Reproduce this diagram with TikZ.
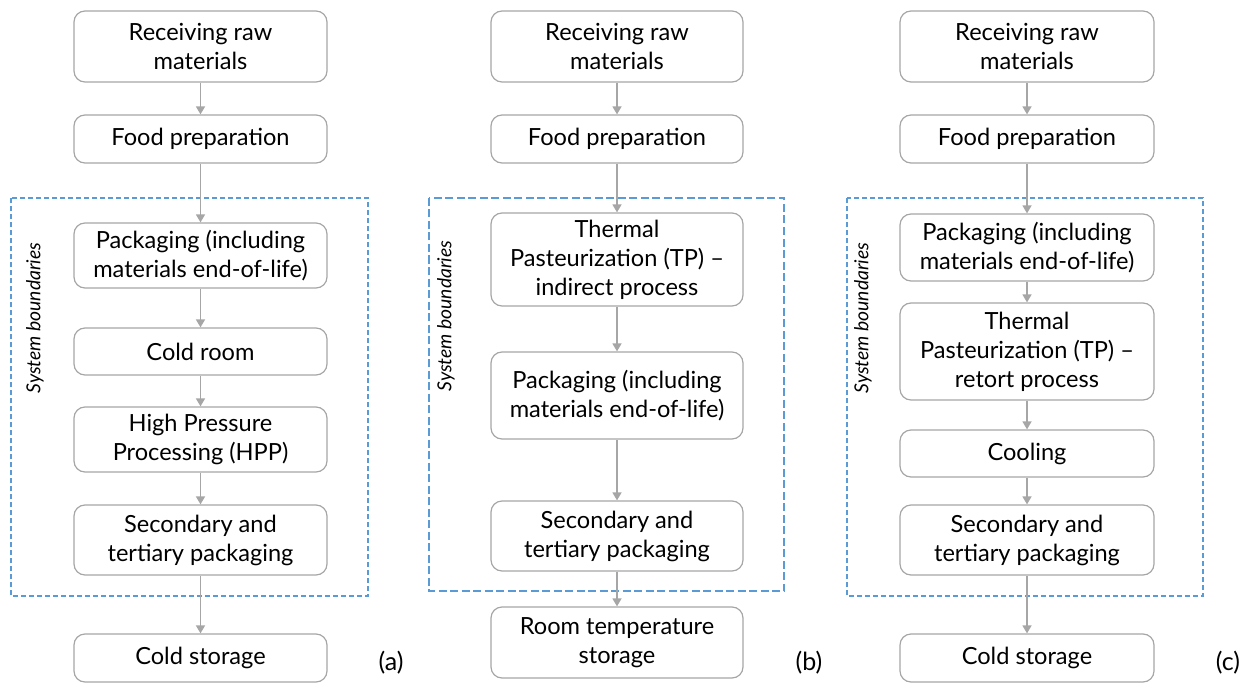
\documentclass[tikz,border=0pt]{standalone}
\usepackage{fontspec}
\setmainfont{Lato}
\usetikzlibrary{arrows.meta}
\definecolor{boxgray}{HTML}{A6A6A6}
\definecolor{arrgray}{HTML}{A6A6A6}
\definecolor{bblue}{HTML}{5B9BD5}
\newcommand{\mainsz}{\fontsize{23.6pt}{29pt}\selectfont}
\newcommand{\labsz}{\fontsize{19.3pt}{23pt}\selectfont\itshape}
\tikzset{
  procbox/.style={draw=boxgray, line width=1.2pt, rounded corners=11pt, inner sep=0pt,
    minimum width=253pt, align=center, font=\mainsz, text=black},
  flow/.style={draw=arrgray, line width=1.5pt, -{Triangle[length=8pt,width=9pt]}},
  bound/.style={draw=bblue, line width=1.2pt, dash pattern=on 5pt off 3pt},
  boundb/.style={draw=bblue, line width=1.2pt, dash pattern=on 8pt off 3.5pt},
  boundlab/.style={rotate=90, font=\labsz, inner sep=0pt},
  panlab/.style={font=\fontsize{25pt}{30pt}\selectfont, inner sep=0pt}
}
\begin{document}
\begin{tikzpicture}[x=1pt,y=-1pt]
\useasboundingbox (0,0) rectangle (1245,695);
% ---------- panel (a)
\draw[bound] (11,198) rectangle (368,596);
\node[boundlab] (la) at (35,318) {System boundaries};
\node[procbox, minimum height=71pt] (a1) at (200.5,46.5) {Receiving raw\\materials};
\node[procbox, minimum height=48pt] (a2) at (200.5,139) {Food preparation};
\node[procbox, minimum height=65pt] (a3) at (200.5,255.5) {Packaging (including\\materials end-of-life)};
\node[procbox, minimum height=47pt] (a4) at (200.5,351.5) {Cold room};
\node[procbox, minimum height=65pt] (a5) at (200.5,439.5) {High Pressure\\Processing (HPP)};
\node[procbox, minimum height=70pt] (a6) at (200.5,540) {Secondary and\\tertiary packaging};
\node[procbox, minimum height=48pt] (a7) at (200.5,658) {Cold storage};
\node[panlab] (pa) at (391,663) {(a)};
\draw[flow] (a1) -- (a2);
\draw[flow] (a2) -- (a3);
\draw[flow] (a3) -- (a4);
\draw[flow] (a4) -- (a5);
\draw[flow] (a5) -- (a6);
\draw[flow] (a6) -- (a7);
% ---------- panel (b)
\draw[boundb] (429,198) rectangle (784,591);
\node[boundlab] (lb) at (446,316) {System boundaries};
\node[procbox, minimum width=252pt, minimum height=71pt] (b1) at (617,46.5) {Receiving raw\\materials};
\node[procbox, minimum width=252pt, minimum height=48pt] (b2) at (617,139) {Food preparation};
\node[procbox, minimum width=252pt, minimum height=93pt] (b3) at (617,259.5) {Thermal\\Pasteurization (TP) –\\indirect process};
\node[procbox, minimum width=252pt, minimum height=87pt] (b4) at (617,395.5) {Packaging (including\\materials end-of-life)};
\node[procbox, minimum width=252pt, minimum height=70pt] (b5) at (617,536) {Secondary and\\tertiary packaging};
\node[procbox, minimum width=252pt, minimum height=71pt] (b6) at (617,642.5) {Room temperature\\storage};
\node[panlab] (pb) at (809,663) {(b)};
\draw[flow] (b1) -- (b2);
\draw[flow] (b2) -- (b3);
\draw[flow] (b3) -- (b4);
\draw[flow] (b4) -- (b5);
\draw[flow] (b5) -- (b6);
% ---------- panel (c)
\draw[bound] (847,198) rectangle (1203,596);
\node[boundlab] (lc) at (863,318) {System boundaries};
\node[procbox, minimum width=254pt, minimum height=71pt] (c1) at (1027,46.5) {Receiving raw\\materials};
\node[procbox, minimum width=254pt, minimum height=48pt] (c2) at (1027,139) {Food preparation};
\node[procbox, minimum width=254pt, minimum height=67pt] (c3) at (1027,247.5) {Packaging (including\\materials end-of-life)};
\node[procbox, minimum width=254pt, minimum height=97pt] (c4) at (1027,351.5) {Thermal\\Pasteurization (TP) –\\retort process};
\node[procbox, minimum width=254pt, minimum height=47pt] (c5) at (1027,453.5) {Cooling};
\node[procbox, minimum width=254pt, minimum height=70pt] (c6) at (1027,540) {Secondary and\\tertiary packaging};
\node[procbox, minimum width=254pt, minimum height=48pt] (c7) at (1027,658) {Cold storage};
\node[panlab] (pc) at (1228,663) {(c)};
\draw[flow] (c1) -- (c2);
\draw[flow] (c2) -- (c3);
\draw[flow] (c3) -- (c4);
\draw[flow] (c4) -- (c5);
\draw[flow] (c5) -- (c6);
\draw[flow] (c6) -- (c7);
\end{tikzpicture}
\end{document}
